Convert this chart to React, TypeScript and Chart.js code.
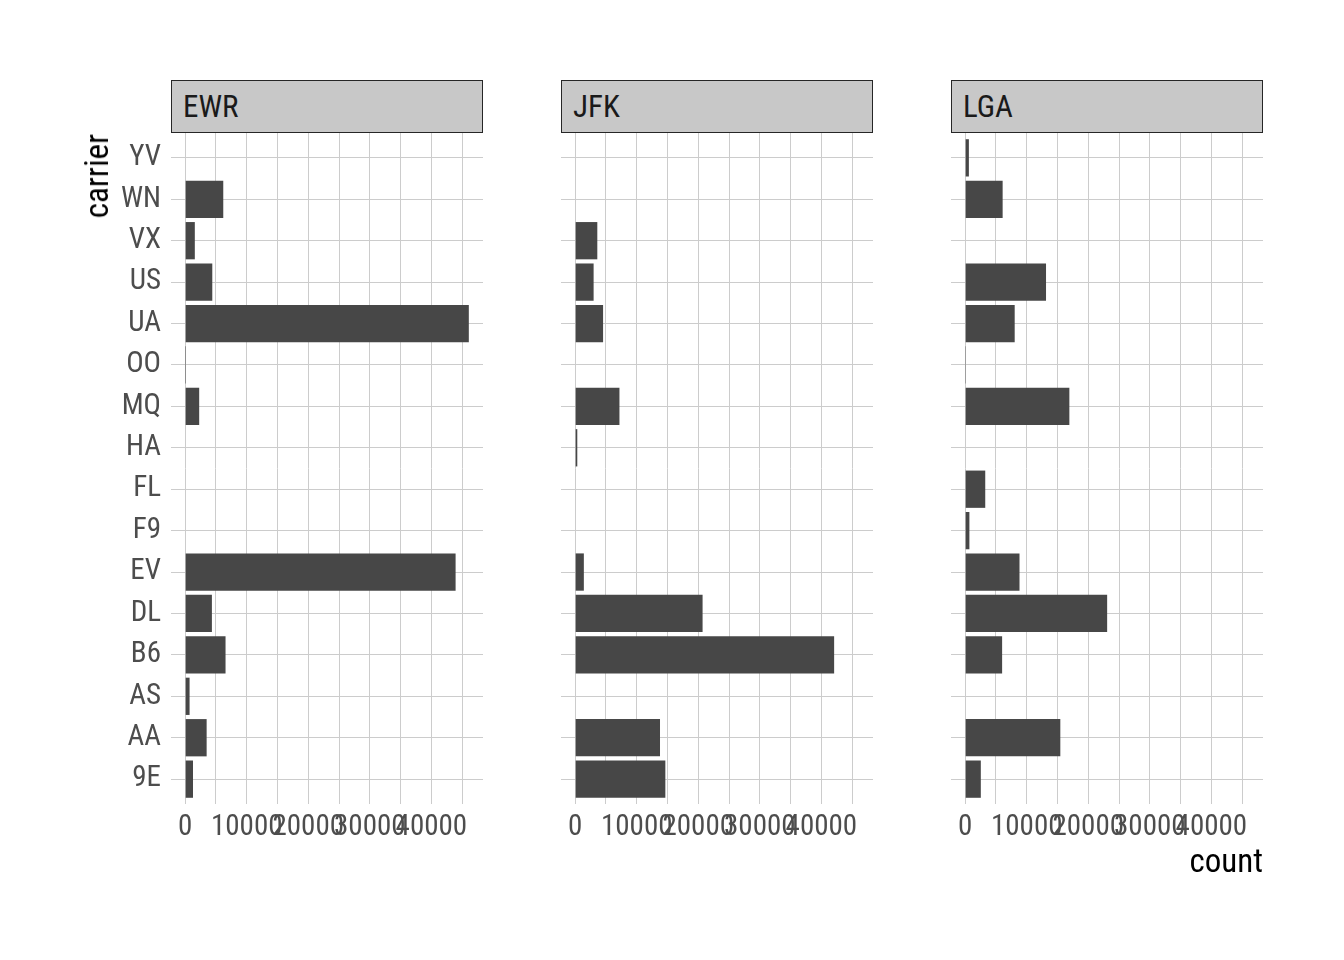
import React, { useEffect, useRef } from "react";
import { Chart, registerables } from "chart.js";

Chart.register(...registerables);

const carriers = ["9E", "AA", "AS", "B6", "DL", "EV", "F9", "FL", "HA", "MQ", "OO", "UA", "US", "VX", "WN", "YV"];
const origins = ["EWR", "JFK", "LGA"];
const ewrCounts = [1268, 3487, 714, 6557, 4342, 43939, 0, 0, 0, 2276, 6, 46087, 4405, 1566, 6188, 0];
const jfkCounts = [14651, 13783, 0, 42076, 20701, 1408, 0, 0, 342, 7193, 0, 4534, 2995, 3596, 0, 0];
const lgaCounts = [2541, 15459, 0, 6002, 23067, 8826, 685, 3260, 0, 16928, 26, 8044, 13136, 0, 6087, 601];
const xTickValues = [0, 5000, 10000, 15000, 20000, 25000, 30000, 35000, 40000, 45000];
const xTickLabels = ["0", "", "10000", "", "20000", "", "30000", "", "40000", ""];

const seriesByOrigin = [ewrCounts, jfkCounts, lgaCounts];

const FONT = "'Liberation Sans Narrow', 'Arial Narrow', 'Roboto Condensed', 'DejaVu Sans Condensed', 'Liberation Sans', sans-serif";
const PANEL_LEFTS = [171, 561, 951];
const PANEL_W = 312;
const PLOT_TOP = 133;
const PLOT_H = 671;
const X_AXIS_H = 60;
const BAR = "#474747";
const GRID = "#cccccc";

function Panel({ index }: { index: number }) {
  const ref = useRef<HTMLCanvasElement | null>(null);
  const padL = index === 0 ? 130 : 0;
  const width = padL + PANEL_W;
  const height = PLOT_H + X_AXIS_H;

  useEffect(() => {
    if (!ref.current) return;
    const values = seriesByOrigin[index];
    const maxVal = Math.max(...ewrCounts, ...jfkCounts, ...lgaCounts);
    const expand = maxVal * 0.05;
    const chart = new Chart(ref.current, {
      type: "bar",
      data: {
        datasets: [
          {
            data: values.map((v, i) => ({ x: v, y: i })),
            backgroundColor: BAR,
            borderWidth: 0,
            barPercentage: 0.9,
            categoryPercentage: 1,
          },
        ],
      },
      options: {
        indexAxis: "y",
        animation: false,
        responsive: false,
        devicePixelRatio: 1,
        layout: { padding: 0 },
        plugins: { legend: { display: false }, tooltip: { enabled: false }, title: { display: false } },
        scales: {
          x: {
            type: "linear",
            position: "bottom",
            min: -expand,
            max: maxVal + expand,
            afterBuildTicks: (scale: any) => {
              scale.ticks = xTickValues.map((v) => ({ value: v }));
            },
            afterFit: (scale: any) => {
              scale.height = X_AXIS_H;
              scale.paddingLeft = 0;
              scale.paddingRight = 0;
            },
            grid: { color: GRID, lineWidth: 1, drawTicks: false },
            border: { display: false },
            ticks: {
              autoSkip: false,
              maxRotation: 0,
              minRotation: 0,
              padding: 6,
              color: "#4d4d4d",
              font: { family: FONT, size: 29 },
              callback: (_v: any, i: number) => xTickLabels[i],
            },
          },
          y: {
            type: "linear",
            position: "left",
            offset: false,
            min: -0.6,
            max: carriers.length - 1 + 0.6,
            afterBuildTicks: (scale: any) => {
              scale.ticks = carriers.map((_c, i) => ({ value: i }));
            },
            afterFit: (scale: any) => {
              scale.width = padL;
              scale.paddingTop = 0;
              scale.paddingBottom = 0;
            },
            grid: { color: GRID, lineWidth: 1, drawTicks: false, offset: false },
            border: { display: false },
            ticks: {
              display: index === 0,
              autoSkip: false,
              padding: 10,
              color: "#4d4d4d",
              font: { family: FONT, size: 29 },
              callback: (v: any) => carriers[v as number],
            },
          },
        },
      },
    });
    return () => chart.destroy();
  }, [index]);

  return (
    <canvas
      ref={ref}
      width={width}
      height={height}
      style={{
        position: "absolute",
        left: PANEL_LEFTS[index] - padL,
        top: PLOT_TOP,
        width,
        height,
      }}
    />
  );
}

export default function App() {
  return (
    <div
      style={{
        position: "fixed",
        left: 0,
        top: 0,
        width: 1344,
        height: 960,
        background: "#ffffff",
        fontFamily: FONT,
        overflow: "hidden",
      }}
    >
      {origins.map((o, i) => (
        <div
          key={o}
          style={{
            position: "absolute",
            left: PANEL_LEFTS[i],
            top: 80,
            width: PANEL_W,
            height: 53,
            boxSizing: "border-box",
            border: "1.5px solid #262626",
            background: "#c8c8c8",
            color: "#1a1a1a",
            fontSize: 31,
            lineHeight: "52px",
            paddingLeft: 11,
          }}
        >
          {o}
        </div>
      ))}
      {origins.map((o, i) => (
        <Panel key={"p" + o} index={i} />
      ))}
      <div
        style={{
          position: "absolute",
          left: 80,
          top: 134,
          writingMode: "vertical-rl",
          transform: "rotate(180deg)",
          fontSize: 33,
          lineHeight: "33px",
          color: "#000000",
        }}
      >
        carrier
      </div>
      <div
        style={{
          position: "absolute",
          right: 1344 - 1263,
          top: 841,
          fontSize: 33,
          lineHeight: "40px",
          color: "#000000",
        }}
      >
        count
      </div>
    </div>
  );
}
